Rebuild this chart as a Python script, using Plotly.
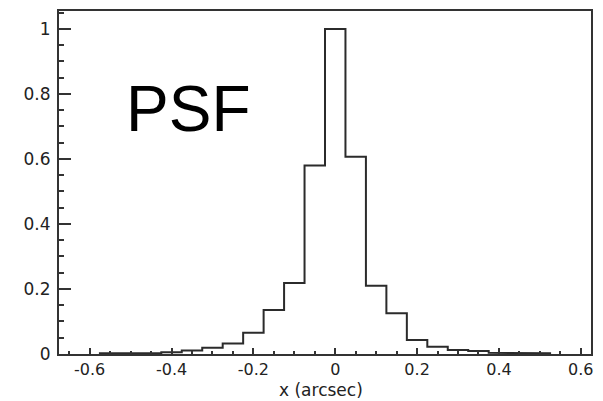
import plotly.graph_objects as go

# ---- data ----
bin_centers = [-0.65, -0.60, -0.55, -0.50, -0.45, -0.40, -0.35, -0.30, -0.25,
               -0.20, -0.15, -0.10, -0.05, 0.00, 0.05, 0.10, 0.15, 0.20,
               0.25, 0.30, 0.35, 0.40, 0.45, 0.50, 0.55, 0.60]
psf_values = [0.0, 0.0, 0.002, 0.002, 0.003, 0.005, 0.011, 0.019, 0.032,
              0.065, 0.135, 0.218, 0.580, 1.000, 0.607, 0.210, 0.125, 0.043,
              0.022, 0.012, 0.009, 0.004, 0.003, 0.002, 0.0, 0.0]
bin_width = 0.05

x_tickvals = [-0.6, -0.4, -0.2, 0, 0.2, 0.4, 0.6]
x_ticktext = ["-0.6", "-0.4", "-0.2", "0", "0.2", "0.4", "0.6"]
y_tickvals = [0, 0.2, 0.4, 0.6, 0.8, 1.0]
y_ticktext = ["0", "0.2", "0.4", "0.6", "0.8", "1"]

x_title = "x (arcsec)"
label_text = "PSF"

# ---- build the histogram outline (step path) from the bins ----
nonzero = [i for i, v in enumerate(psf_values) if v > 0]
i0, i1 = nonzero[0], nonzero[-1]
xs, ys = [], []
xs.append(bin_centers[i0] - bin_width / 2)
ys.append(0)
for i in range(i0, i1 + 1):
    left = bin_centers[i] - bin_width / 2
    right = bin_centers[i] + bin_width / 2
    xs += [left, right]
    ys += [psf_values[i], psf_values[i]]
xs.append(bin_centers[i1] + bin_width / 2)
ys.append(0)

fig = go.Figure()
fig.add_trace(go.Scatter(x=xs, y=ys, mode="lines",
                         line=dict(color="#2b2b2b", width=2),
                         hoverinfo="skip", showlegend=False))

tick_font = dict(family="DejaVu Sans, Liberation Sans, Arial", size=16, color="#222222")
frame_col = "#333333"

fig.update_layout(
    width=603, height=401,
    margin=dict(l=59, r=12, t=11, b=47),
    paper_bgcolor="white", plot_bgcolor="white",
    showlegend=False,
    xaxis=dict(
        range=[bin_centers[0] - bin_width / 2, bin_centers[-1] + bin_width / 2],
        showgrid=False, zeroline=False, automargin=False,
        showline=True, linecolor=frame_col, linewidth=2, mirror=True,
        ticks="inside", ticklen=6, tickwidth=1.5, tickcolor=frame_col,
        tickvals=x_tickvals, ticktext=x_ticktext,
        minor=dict(dtick=0.05, tick0=0, ticks="inside", ticklen=3,
                   tickwidth=1.5, tickcolor=frame_col, showgrid=False),
        tickfont=tick_font, ticklabelstandoff=0,
    ),
    yaxis=dict(
        range=[0, 1.055],
        showgrid=False, zeroline=False, automargin=False,
        showline=True, linecolor=frame_col, linewidth=2, mirror=True,
        ticks="inside", ticklen=12, tickwidth=1.5, tickcolor=frame_col,
        tickvals=y_tickvals, ticktext=y_ticktext,
        minor=dict(dtick=0.05, tick0=0, ticks="inside", ticklen=5,
                   tickwidth=1.5, tickcolor=frame_col, showgrid=False),
        tickfont=dict(family="DejaVu Sans, Liberation Sans, Arial", size=17,
                      color="#222222"),
        ticklabelstandoff=3,
    ),
    annotations=[
        dict(text=label_text, xref="x", yref="y", x=-0.515, y=0.755,
             xanchor="left", yanchor="middle", showarrow=False,
             font=dict(family="Liberation Sans, Arial", size=64, color="black")),
        dict(text=x_title, xref="paper", yref="paper", x=0.4925, y=-0.106,
             xanchor="center", yanchor="middle", showarrow=False,
             font=dict(family="DejaVu Sans, Liberation Sans, Arial", size=17,
                       color="#222222")),
    ],
)

fig.write_html("out.html")
